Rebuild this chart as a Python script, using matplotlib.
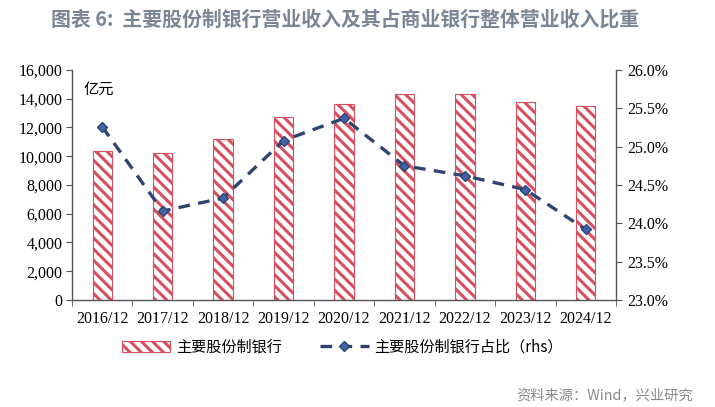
import matplotlib
matplotlib.use('Agg')
import matplotlib.pyplot as plt
import numpy as np

# data
years = ['2016/12', '2017/12', '2018/12', '2019/12', '2020/12',
         '2021/12', '2022/12', '2023/12', '2024/12']
revenue = [10350, 10250, 11200, 12750, 13600, 14350, 14350, 13750, 13500]
share = [25.26, 24.16, 24.33, 25.08, 25.37, 24.75, 24.62, 24.44, 23.92]

cjk = ['Noto Sans CJK SC', 'DejaVu Sans']
serif = ['Liberation Serif', 'DejaVu Serif']

plt.rcParams['hatch.linewidth'] = 2.2
plt.rcParams['hatch.color'] = '#c0182f'

fig = plt.figure(figsize=(7.15, 4.07), dpi=100)
ax = fig.add_axes([0.1007, 0.263, 0.7608, 0.565])
ax2 = ax.twinx()

x = np.arange(len(years))
lineColor = '#2f4470'

ax.bar(x, revenue, 0.32, facecolor='white', edgecolor='#d85060',
       hatch='\\\\\\', linewidth=0.8, label='主要股份制银行', zorder=2)

ax2.plot(x, share, color=lineColor, linestyle=(0, (3.5, 2.5)), linewidth=2.4,
         marker='D', markersize=5, markerfacecolor='#3f64a8',
         markeredgecolor=lineColor, label='主要股份制银行占比（rhs）')

ax.set_xlim(-0.5, len(years) - 0.5)
ax.set_ylim(0, 16000)
ax.set_yticks(np.arange(0, 16001, 2000))
ax.set_yticklabels(['{:,}'.format(v) for v in range(0, 16001, 2000)])
ax2.set_ylim(23, 26)
ax2.set_yticks(np.arange(23, 26.01, 0.5))
ax2.set_yticklabels(['{:.1f}%'.format(v) for v in np.arange(23, 26.01, 0.5)])

ax.set_xticks(x)
ax.set_xticklabels(years)
ax.set_xticks(np.arange(-0.5, len(years), 1), minor=True)
ax.tick_params(axis='x', which='major', length=0, pad=8)
ax.tick_params(axis='x', which='minor', length=4, direction='out', color='#555555')

for a in (ax, ax2):
    for s in a.spines.values():
        s.set_visible(False)
    for lbl in a.get_xticklabels() + a.get_yticklabels():
        lbl.set_fontfamily(serif)
        lbl.set_fontsize(11.5)
ax.spines['left'].set_visible(True)
ax.spines['bottom'].set_visible(True)
ax2.spines['right'].set_visible(True)
for s in (ax.spines['left'], ax.spines['bottom'], ax2.spines['right']):
    s.set_color('#555555')
    s.set_linewidth(1.0)
ax.tick_params(axis='y', length=4, color='#555555', pad=3)
ax2.tick_params(axis='y', length=4, color='#555555', pad=4)

ax.text(0.022, 0.955, '亿元', transform=ax.transAxes, fontsize=11,
        family=cjk, va='top', ha='left')

fig.text(0.072, 0.953, '图表 6:  主要股份制银行营业收入及其占商业银行整体营业收入比重',
         fontsize=14.3, fontweight='bold', color='#7a8595', family=cjk,
         va='center', ha='left')

h1, l1 = ax.get_legend_handles_labels()
h2, l2 = ax2.get_legend_handles_labels()
leg = fig.legend(h1 + h2, l1 + l2, loc='center', bbox_to_anchor=(0.479, 0.147),
                 ncol=2, frameon=False, prop={'family': cjk, 'size': 10.9},
                 columnspacing=2.5, handlelength=3.2, handletextpad=0.4)

fig.text(0.969, 0.03, '资料来源：Wind，兴业研究', fontsize=10.3, color='#8a8a8a',
         family=cjk, ha='right', va='center')

fig.savefig('out.png', dpi=100)
